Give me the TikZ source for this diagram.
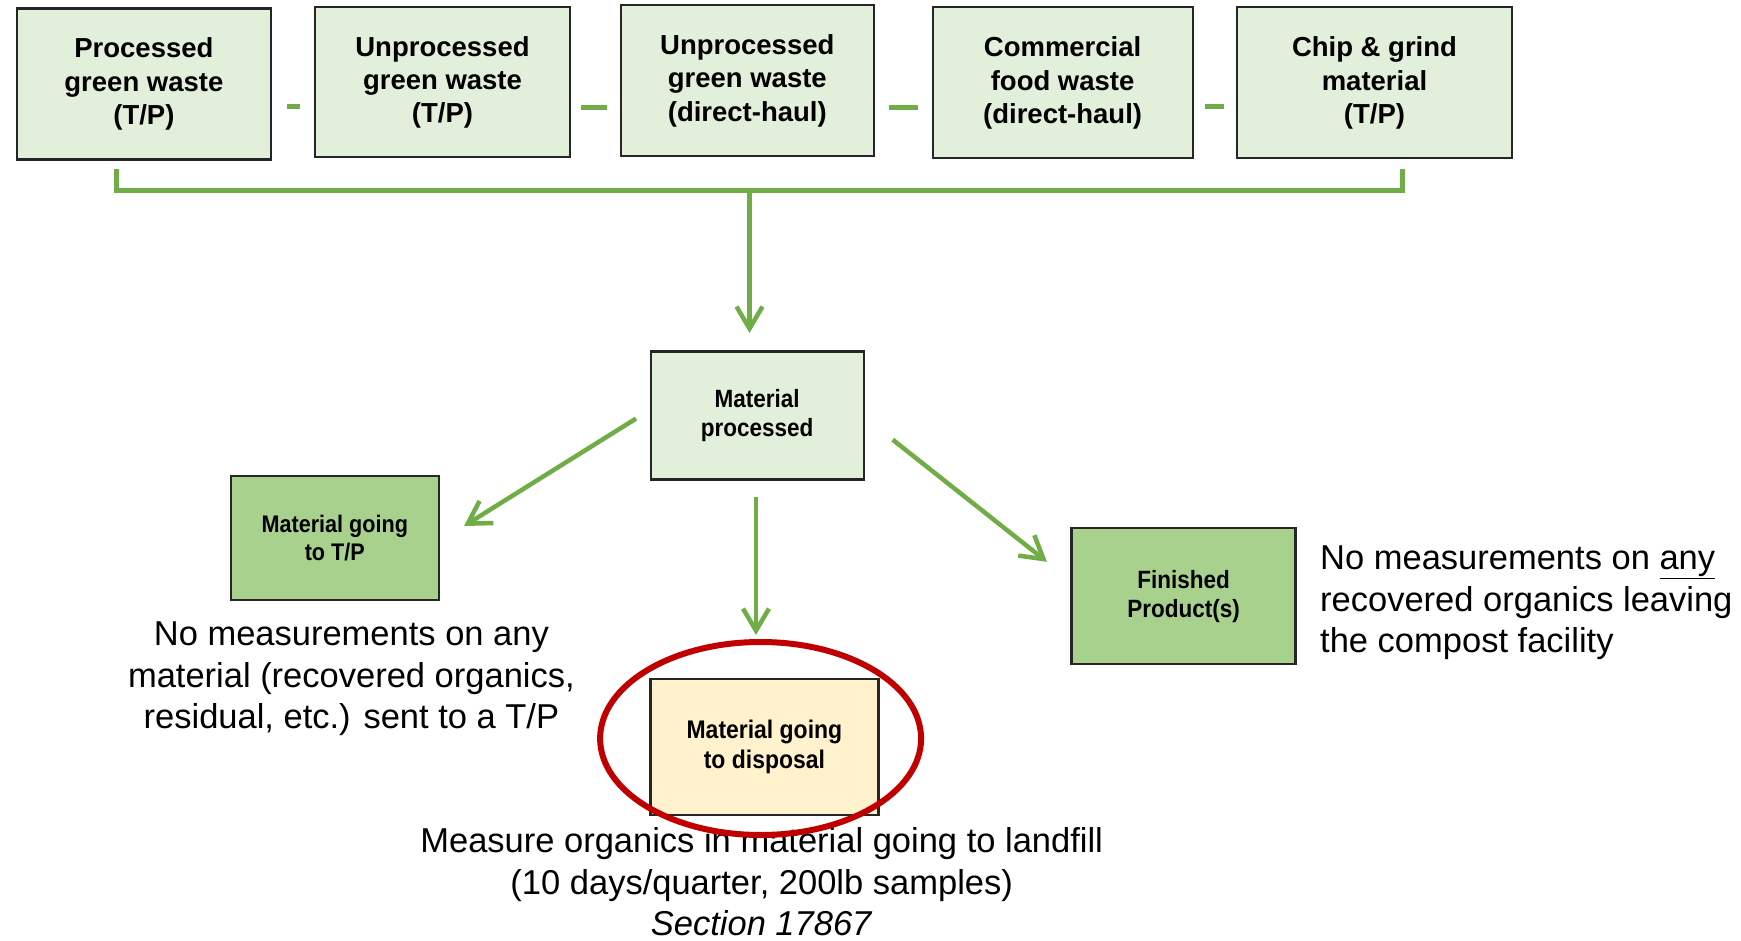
\documentclass[tikz,border=0pt]{standalone}
\usepackage{fontspec}
\setmainfont{Liberation Sans}
\newfontfamily\narrowsans[FakeStretch=0.9]{Liberation Sans}
\usetikzlibrary{arrows.meta}
\definecolor{lightgreen}{HTML}{E2EFDA}
\definecolor{midgreen}{HTML}{A9D18E}
\definecolor{paleyellow}{HTML}{FFF2CC}
\definecolor{linkgreen}{HTML}{70AD47}
\definecolor{ringred}{HTML}{C00000}
\definecolor{edgegray}{HTML}{262626}
\tikzset{
  x=1pt, y=-1pt,
  box/.style={draw=edgegray, line width=2.2pt, rectangle, inner sep=0pt, align=center},
  sourcebox/.style={box, fill=lightgreen, font=\fontsize{27.5}{33.3}\selectfont\bfseries},
  stagebox/.style={box, font=\narrowsans\fontsize{25}{29}\selectfont\bfseries},
  link/.style={draw=linkgreen, line width=5pt},
  flow/.style={draw=linkgreen, line width=4.5pt, -{Straight Barb[length=22pt,width=26pt]}},
  note/.style={align=center, inner sep=0pt, font=\fontsize{34.5}{41.5}\selectfont},
}
\begin{document}
\begin{tikzpicture}
\useasboundingbox (0,0) rectangle (1741,941);

% incoming material streams
\node[sourcebox, minimum width=254pt, minimum height=151pt] (s1) at (143.9,84) {Processed\\green waste\\(T/P)};
\node[sourcebox, minimum width=255pt, minimum height=150pt] (s2) at (442.5,82.4) {Unprocessed\\green waste\\(T/P)};
\node[sourcebox, minimum width=253pt, minimum height=151pt] (s3) at (747.3,80.6) {Unprocessed\\green waste\\(direct-haul)};
\node[sourcebox, minimum width=260pt, minimum height=151pt] (s4) at (1062.6,82.9) {Commercial\\food waste\\(direct-haul)};
\node[sourcebox, minimum width=275pt, minimum height=151pt] (s5) at (1374.5,82.9) {Chip \& grind\\material\\(T/P)};

% short separators between the streams
\draw[link, shorten <=15pt, shorten >=14pt] ([yshift=-23pt]s1.east) -- ([yshift=-23pt]s2.west |- s1.east);
\draw[link, shorten <=10pt, shorten >=13pt] ([yshift=-25pt]s2.east) -- ([yshift=-25pt]s3.west |- s2.east);
\draw[link, shorten <=14pt, shorten >=14pt] ([yshift=-27pt]s3.east) -- ([yshift=-27pt]s4.west |- s3.east);
\draw[link, shorten <=11pt, shorten >=12pt] ([yshift=-24pt]s4.east) -- ([yshift=-24pt]s5.west |- s4.east);

% processing stages
\node[stagebox, fill=lightgreen, minimum width=213pt, minimum height=128pt] (proc) at (757.2,415.5) {Material\\processed};
\node[stagebox, fill=midgreen, minimum width=208pt, minimum height=124pt, font=\narrowsans\fontsize{24}{28}\selectfont\bfseries] (tp) at (334.8,537.8) {Material going\\to T/P};
\node[stagebox, fill=midgreen, minimum width=224pt, minimum height=136pt] (fin) at (1183.5,596.3) {Finished\\Product(s)};
\node[stagebox, fill=paleyellow, minimum width=228pt, minimum height=136pt, font=\narrowsans\fontsize{25.5}{30}\selectfont\bfseries] (disp) at (764.4,747.3) {Material going\\to disposal};

% collecting bracket under the streams
\coordinate (bl) at (116.6,172);
\coordinate (br) at (1402.3,172);
\coordinate (bm) at (749.5,191);
\draw[link, line cap=rect] (bl) -- (bl |- bm) -- (br |- bm) -- (br);
\draw[flow] (bm) -- (bm |- 0,333);

% outgoing flows
\coordinate (lstart) at (636,418.6);
\coordinate (lend) at (464,526);
\draw[flow] (lstart) -- (lend);
\coordinate (dstart) at (756,497.4);
\draw[flow] (dstart) -- (dstart |- 0,635);
\coordinate (rstart) at (892.7,439.7);
\coordinate (rend) at (1047,561.8);
\draw[flow] (rstart) -- (rend);

% notes
\node[note] (tpnote) at (351.4,679) {No measurements on any\\material (recovered organics,\\residual, etc.) sent to a T/P};
\node[note, anchor=west, align=left] (finnote) at (1320,603) {No measurements on \underline{any}\\recovered organics leaving\\the compost facility};
\node[note] (dispnote) at (761.7,882) {Measure organics in material going to landfill\\(10 days/quarter, 200lb samples)\\\textit{Section 17867}};

% highlight ring
\draw[ringred, line width=6pt] (760.6,738.5) ellipse [x radius=160.5pt, y radius=96.5pt];
\end{tikzpicture}
\end{document}
